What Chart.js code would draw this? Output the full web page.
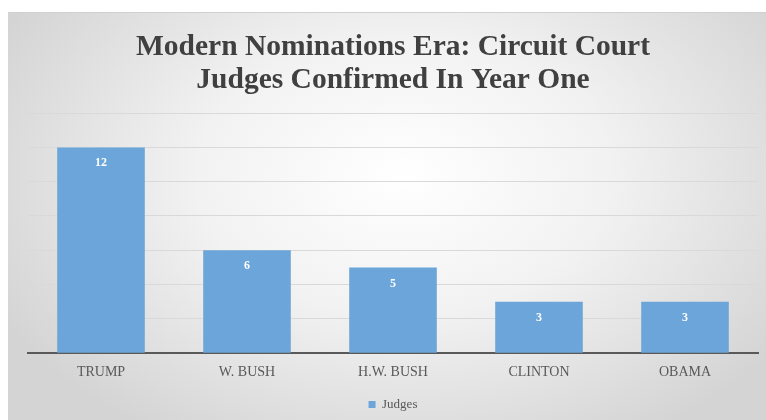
<!DOCTYPE html>
<html>
<head>
<meta charset="utf-8">
<script src="https://cdn.jsdelivr.net/npm/chart.js@4.4.1/dist/chart.umd.min.js"></script>
<style>
    html, body { margin: 0; padding: 0; background: #ffffff; }
    #wrap {
        position: absolute;
        left: 8px;
        top: 12px;
        width: 758px;
        height: 408px;
        background: radial-gradient(ellipse 60% 75% at 52% 40%, #ffffff 0%, #f2f2f2 45%, #d4d4d4 100%);
        border-top: 1px solid #d0d0d0;
    }
</style>
</head>
<body>
<div id="wrap"><canvas id="myChart"></canvas></div>
<script>
const presidents = ['TRUMP', 'W. BUSH', 'H.W. BUSH', 'CLINTON', 'OBAMA'];
const judges = [12, 6, 5, 3, 3];
const seriesName = 'Judges';
const chartTitle = ['Modern Nominations Era: Circuit Court', 'Judges Confirmed In Year One'];

// escreve o valor dentro da barra, perto do topo
const barValues = {
    id: 'barValues',
    afterDatasetsDraw(chart) {
        const ctx = chart.ctx;
        const meta = chart.getDatasetMeta(0);
        ctx.save();
        ctx.fillStyle = '#ffffff';
        ctx.font = 'bold 12px "Liberation Serif", serif';
        ctx.textAlign = 'center';
        ctx.textBaseline = 'middle';
        meta.data.forEach(function(bar, i) {
            ctx.fillText(chart.data.datasets[0].data[i], bar.x, bar.y + 16);
        });
        ctx.restore();
    }
};

window.onload = function() {
    const ctx = document.getElementById('myChart');

    new Chart(ctx, {
        type: 'bar',
        data: {
            labels: presidents,
            datasets: [{
                label: seriesName,
                data: judges,
                backgroundColor: '#6ca5d9',
                borderWidth: 0,
                categoryPercentage: 1.0,
                barPercentage: 0.6
            }]
        },
        options: {
            responsive: true,
            maintainAspectRatio: false,
            animation: false,
            layout: {
                padding: { left: 20, right: 8, top: 0, bottom: 0 }
            },
            scales: {
                y: {
                    min: 0,
                    max: 14,
                    ticks: { display: false, stepSize: 2 },
                    grid: { color: '#d9d9d9', lineWidth: 1, drawTicks: false },
                    border: { display: false }
                },
                x: {
                    grid: { display: false },
                    border: { color: '#595959', width: 2 },
                    ticks: {
                        color: '#595959',
                        padding: 3,
                        font: { family: '"Liberation Serif", serif', size: 14 }
                    }
                }
            },
            plugins: {
                title: {
                    display: true,
                    text: chartTitle,
                    color: '#404040',
                    padding: { top: 18, bottom: 16 },
                    font: { family: '"Liberation Serif", serif', size: 29.5, weight: 'bold', lineHeight: 1.12 }
                },
                legend: {
                    position: 'bottom',
                    labels: {
                        color: '#595959',
                        boxWidth: 7,
                        boxHeight: 7,
                        padding: 14,
                        font: { family: '"Liberation Serif", serif', size: 13 }
                    }
                },
                tooltip: { enabled: false }
            }
        },
        plugins: [barValues]
    });
}
</script>
</body>
</html>
